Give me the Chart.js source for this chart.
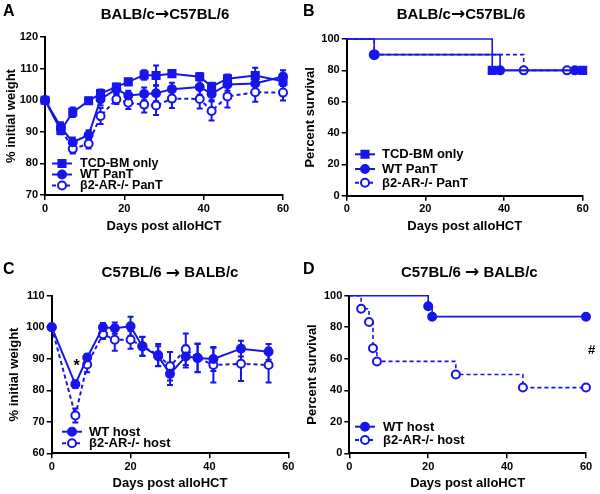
<!DOCTYPE html>
<html>
<head>
<meta charset="utf-8">
<script src="https://cdn.jsdelivr.net/npm/chart.js@4.4.1/dist/chart.umd.min.js"></script>
<style>
  body { margin: 0; background: #fff; }
  #wrap { position: relative; width: 600px; height: 494px; }
  canvas { position: absolute; }
</style>
</head>
<body>
<div id="wrap">
  <canvas id="pA" width="300" height="247" style="left:0;top:0"></canvas>
  <canvas id="pB" width="300" height="247" style="left:300px;top:0"></canvas>
  <canvas id="pC" width="300" height="247" style="left:0;top:247px"></canvas>
  <canvas id="pD" width="300" height="247" style="left:300px;top:247px"></canvas>
</div>
<script>
// ---- data ----
// A: weight, BALB/c -> C57BL/6
var daysA = [0, 4, 7, 11, 14, 18, 21, 25, 28, 32, 39, 42, 46, 53, 60];
var tcdA = [100, 90.4, 96.2, 99.8, 102.1, 104.2, 105.8, 108, 107.8, 108.4, 107.4, 104.3, 106.8, 107.8, 106];
var tcdErrA = [0, 1.2, 1.5, 1, 1.3, 1, 1, 1.5, 3.2, 1, 1.2, 1.2, 1.3, 2.5, 1.5];
var wtA = [100, 91.5, 86.7, 89, 100.3, 103.5, 101.5, 102, 102.2, 103.5, 104.2, 102, 105, 105.3, 107.5];
var wtErrA = [0, 1.5, 1.5, 1.5, 2, 1.5, 1.5, 2, 2.5, 2, 2.5, 2, 2, 2.5, 2];
var koA = [100, 91, 84.6, 86.2, 95, 100.3, 99.2, 98.6, 98.3, 100.5, 100.4, 96.6, 101.2, 102.5, 102.4];
var koErrA = [0, 1.5, 1.5, 1.5, 2.5, 1.5, 2, 2.5, 3, 3, 3, 3, 3.5, 3, 2.5];

// B: survival, BALB/c -> C57BL/6
var tcdDaysB = [0, 37, 60];
var tcdSurvB = [100, 80, 80];
var wtDaysB = [0, 7, 39, 58];
var wtSurvB = [100, 90, 80, 80];
var koDaysB = [0, 7, 45, 56];
var koSurvB = [100, 90, 80, 80];

// C: weight, C57BL/6 -> BALB/c
var daysC = [0, 6, 9, 13, 16, 20, 23, 27, 30, 34, 37, 41, 48, 55];
var wtC = [100, 81.9, 90.4, 100, 99.7, 100.3, 93.9, 90.8, 85.2, 90.7, 90.2, 89.9, 93.2, 92.2];
var wtErrC = [0, 1.2, 1, 1.3, 1.8, 3, 3, 3.2, 3.5, 3.5, 4.5, 3.8, 2.5, 2.5];
var koC = [100, 72, 88.2, 97.8, 96, 96, 94, 91.2, 87.6, 93, 90.3, 88, 88.4, 88];
var koErrC = [0, 2.2, 2.5, 1.5, 3.5, 2.8, 3, 3.5, 4.5, 5, 4.5, 5.5, 5.5, 5.5];

// D: survival, C57BL/6 -> BALB/c
var wtDaysD = [0, 20, 21, 60];
var wtSurvD = [100, 93.3, 86.7, 86.7];
var koDaysD = [0, 3, 5, 6, 7, 27, 44, 60];
var koSurvD = [100, 91.7, 83.3, 66.7, 58.3, 50, 41.7, 41.7];

var BLUE = '#1616ec';
var FONT = "'Liberation Sans', Arial, sans-serif";

function pts(xs, ys) {
  return xs.map(function(x, i) { return { x: x, y: ys[i] }; });
}

function drawMarker(ctx, style, x, y, r, filled) {
  ctx.save();
  ctx.fillStyle = filled ? BLUE : '#fff';
  ctx.strokeStyle = BLUE;
  ctx.lineWidth = 2;
  ctx.beginPath();
  if (style === 'rect') {
    var s = r * Math.SQRT1_2;
    ctx.rect(x - s, y - s, 2 * s, 2 * s);
  } else {
    ctx.arc(x, y, r, 0, Math.PI * 2);
  }
  ctx.fill();
  ctx.stroke();
  ctx.restore();
}

// title text with a bigger arrow glyph, centred on cx
function drawTitle(ctx, parts, cx, cy) {
  var fonts = parts.map(function(p) { return p.arrow ? 'bold 17px "DejaVu Sans", ' + FONT : 'bold 15px ' + FONT; });
  var widths = parts.map(function(p, i) { ctx.font = fonts[i]; return ctx.measureText(p.t).width; });
  var total = widths.reduce(function(a, b) { return a + b; }, 0);
  var x = cx - total / 2;
  ctx.textAlign = 'left';
  parts.forEach(function(p, i) {
    ctx.font = fonts[i];
    ctx.fillText(p.t, x, cy);
    x += widths[i];
  });
}

var figPlugin = {
  id: 'fig',
  beforeDatasetsDraw: function(chart) {
    var ctx = chart.ctx, xs = chart.scales.x, ys = chart.scales.y;
    chart.data.datasets.forEach(function(ds) {
      if (!ds.errors) return;
      ctx.save();
      ctx.strokeStyle = BLUE;
      ctx.lineWidth = 2;
      ds.data.forEach(function(p, j) {
        var e = ds.errors[j];
        if (!e) return;
        var x = xs.getPixelForValue(p.x);
        var y1 = ys.getPixelForValue(p.y - e), y2 = ys.getPixelForValue(p.y + e);
        ctx.beginPath();
        ctx.moveTo(x, y1); ctx.lineTo(x, y2);
        ctx.moveTo(x - 3, y1); ctx.lineTo(x + 3, y1);
        ctx.moveTo(x - 3, y2); ctx.lineTo(x + 3, y2);
        ctx.stroke();
      });
      ctx.restore();
    });
  },
  afterDraw: function(chart, args, o) {
    var ctx = chart.ctx;
    ctx.save();
    ctx.fillStyle = '#000';
    ctx.textBaseline = 'middle';
    ctx.font = 'bold 16px ' + FONT;
    ctx.textAlign = 'left';
    ctx.fillText(o.letter, o.letterX, o.letterY);
    drawTitle(ctx, o.title, o.titleX, o.titleY);
    // legend
    ctx.font = 'bold ' + o.legendSize + 'px ' + FONT;
    ctx.textAlign = 'left';
    o.legend.forEach(function(it, k) {
      var y = o.legendRows[k];
      ctx.strokeStyle = BLUE;
      ctx.lineWidth = 2;
      ctx.setLineDash(it.dash ? [4, 3] : []);
      ctx.beginPath();
      ctx.moveTo(o.legendX, y); ctx.lineTo(o.legendX + 20, y);
      ctx.stroke();
      ctx.setLineDash([]);
      drawMarker(ctx, it.style, o.legendX + 10, y, it.style === 'rect' ? 5 : 4, it.filled);
      ctx.fillStyle = '#000';
      ctx.fillText(it.text, o.legendX + o.textGap, y + 0.5);
    });
    // annotations at data coordinates
    (o.notes || []).forEach(function(n) {
      ctx.font = 'bold ' + n.size + 'px ' + FONT;
      ctx.textAlign = 'center';
      ctx.fillStyle = '#000';
      ctx.fillText(n.text, chart.scales.x.getPixelForValue(n.x), chart.scales.y.getPixelForValue(n.y));
    });
    ctx.restore();
  }
};

function axes(o) {
  return {
    x: {
      type: 'linear', min: 0, max: 60,
      afterFit: function(s) { s.height = o.xH; },
      ticks: { stepSize: 20, color: '#000', padding: 2, font: { family: FONT, size: 11, weight: 'bold' } },
      grid: { drawOnChartArea: false, drawTicks: true, tickLength: 5, color: '#000', lineWidth: 1.5 },
      border: { color: '#000', width: 2 },
      title: { display: true, text: 'Days post alloHCT', color: '#000',
               padding: { top: 0, bottom: o.xTitlePad },
               font: { family: FONT, size: 13, weight: 'bold' } }
    },
    y: {
      min: o.yMin, max: o.yMax,
      afterFit: function(s) { s.width = o.yW; },
      ticks: { stepSize: o.yStep, color: '#000', padding: 2, font: { family: FONT, size: 11, weight: 'bold' } },
      grid: { drawOnChartArea: false, drawTicks: true, tickLength: 5, color: '#000', lineWidth: 1.5 },
      border: { color: '#000', width: 2 },
      title: { display: true, text: o.yTitle, color: '#000',
               padding: { top: o.yTitlePad, bottom: 0 },
               font: { family: FONT, size: 13, weight: 'bold' } }
    }
  };
}

function lineSet(xs, ys, errs, style, filled, dashed, stepped, radii) {
  return {
    data: pts(xs, ys),
    errors: errs,
    borderColor: BLUE,
    borderWidth: stepped ? 1.6 : 2,
    borderDash: dashed ? [4, 3] : [],
    stepped: stepped ? 'before' : false,
    tension: 0,
    fill: false,
    clip: false,
    pointStyle: style === 'rect' ? 'rect' : 'circle',
    pointRadius: radii || (style === 'rect' ? 5 : 4),
    pointBorderWidth: 2,
    pointBorderColor: BLUE,
    pointBackgroundColor: filled ? BLUE : '#fff'
  };
}

function makeChart(id, datasets, ax, fig, pad) {
  return new Chart(document.getElementById(id), {
    type: 'line',
    data: { datasets: datasets },
    options: {
      responsive: false,
      animation: false,
      layout: { padding: pad },
      scales: axes(ax),
      plugins: { legend: { display: false }, tooltip: { enabled: false }, fig: fig }
    },
    plugins: [figPlugin]
  });
}

var legendA = [
  { text: 'TCD-BM only', style: 'rect', filled: true, dash: false },
  { text: 'WT PanT', style: 'circle', filled: true, dash: false },
  { text: '\u03b22-AR-/- PanT', style: 'circle', filled: false, dash: true }
];
var legendC = [
  { text: 'WT host', style: 'circle', filled: true, dash: false },
  { text: '\u03b22-AR-/- host', style: 'circle', filled: false, dash: true }
];
var titleTop = [{ t: 'BALB/c' }, { t: '\u2192', arrow: true }, { t: 'C57BL/6' }];
var titleBottom = [{ t: 'C57BL/6 ' }, { t: '\u2192', arrow: true }, { t: ' BALB/c' }];

// A
makeChart('pA', [
  lineSet(daysA, wtA, wtErrA, 'circle', true, false, false),
  lineSet(daysA, tcdA, tcdErrA, 'rect', true, false, false),
  lineSet(daysA, koA, koErrA, 'circle', false, true, false)
], { xH: 52, yW: 45, yMin: 70, yMax: 120, yStep: 10, yTitle: '% initial weight', xTitlePad: 13, yTitlePad: 4 },
{ letter: 'A', letterX: 3, letterY: 12, title: titleTop, titleX: 165, titleY: 15,
  legend: legendA, legendX: 52, textGap: 28, legendRows: [163.5, 174.5, 185.5], legendSize: 12.5 },
{ top: 37, right: 17, left: 0, bottom: 0 });

// B
makeChart('pB', [
  lineSet(wtDaysB, wtSurvB, null, 'circle', true, false, true, [0, 4.5, 4, 4]),
  lineSet(tcdDaysB, tcdSurvB, null, 'rect', true, false, true, [0, 5, 5]),
  lineSet(koDaysB, koSurvB, null, 'circle', false, true, true, [0, 0, 4, 4])
], { xH: 51.3, yW: 46.7, yMin: 0, yMax: 100, yStep: 20, yTitle: 'Percent survival', xTitlePad: 13, yTitlePad: 3 },
{ letter: 'B', letterX: 3, letterY: 12, title: titleTop, titleX: 161, titleY: 15,
  legend: legendA, legendX: 55, textGap: 27, legendRows: [154.3, 169, 182.7], legendSize: 13 },
{ top: 39, right: 17.3, left: 0, bottom: 0 });

// C
makeChart('pC', [
  lineSet(daysC, wtC, wtErrC, 'circle', true, false, false),
  lineSet(daysC, koC, koErrC, 'circle', false, true, false)
], { xH: 40.7, yW: 51.7, yMin: 60, yMax: 110, yStep: 10, yTitle: '% initial weight', xTitlePad: 3, yTitlePad: 7 },
{ letter: 'C', letterX: 3, letterY: 23, title: titleBottom, titleX: 170, titleY: 26.3,
  legend: legendC, legendX: 62, textGap: 27, legendRows: [184.7, 196.3], legendSize: 13,
  notes: [{ text: '*', x: 6.3, y: 87.5, size: 16 }] },
{ top: 48.7, right: 11.7, left: 0, bottom: 0 });

// D
makeChart('pD', [
  lineSet(wtDaysD, wtSurvD, null, 'circle', true, false, true, [0, 4, 4, 4]),
  lineSet(koDaysD, koSurvD, null, 'circle', false, true, true, [0, 4, 4, 4, 4, 4, 4, 4])
], { xH: 40.7, yW: 49.3, yMin: 0, yMax: 100, yStep: 20, yTitle: 'Percent survival', xTitlePad: 3, yTitlePad: 5 },
{ letter: 'D', letterX: 3, letterY: 23, title: titleBottom, titleX: 169.3, titleY: 26,
  legend: legendC, legendX: 55, textGap: 28, legendRows: [179.7, 193], legendSize: 13,
  notes: [{ text: '#', x: 61.4, y: 65.5, size: 13 }] },
{ top: 48.7, right: 14, left: 0, bottom: 0 });
</script>
</body>
</html>
